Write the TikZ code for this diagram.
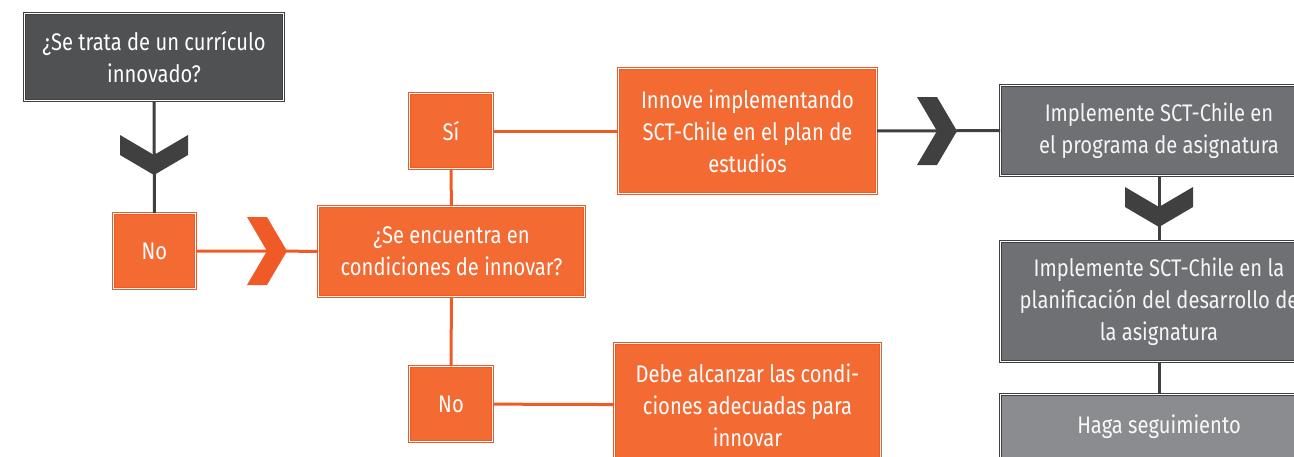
\documentclass[tikz,border=0pt]{standalone}
\usepackage{fontspec}
\setmainfont{Fira Sans}[FakeStretch=0.84]
\usetikzlibrary{shapes.geometric,arrows,positioning}

\definecolor{orfill}{HTML}{F36A33}
\definecolor{orline}{HTML}{EF5A27}
\definecolor{dkfill}{HTML}{505153}
\definecolor{dkline}{HTML}{3E3F41}
\definecolor{gyfill}{HTML}{6F7073}
\definecolor{ltfill}{HTML}{8B8C8F}
\definecolor{chev}{HTML}{404041}

\tikzset{
  box/.style={rectangle, line width=1pt, double=white, double distance=1pt,
    align=center, inner sep=0pt, text=white,
    font=\fontsize{24}{32}\selectfont},
  orbox/.style={box, draw=orline, fill=orfill},
  dkbox/.style={box, draw=dkline, fill=dkfill},
  gybox/.style={box, draw=dkline, fill=gyfill, text=white!92!gray},
  ltbox/.style={box, draw=dkline, fill=ltfill, text=white!95!gray},
  orlink/.style={draw=orline, line width=3pt},
  dklink/.style={draw=chev, line width=3pt},
  chevron/.pic={\fill (-20,-34) -- (0,0) -- (-20,34) -- (0,34) -- (20,0) -- (0,-34) -- cycle;}
}

\begin{document}
\begin{tikzpicture}[x=1pt,y=-1pt]
\useasboundingbox (0,0) rectangle (1294,456);
\clip (0,0) rectangle (1294,456);

\node (top) at (154,57) [dkbox, minimum width=259, minimum height=87] {¿Se trata de un currículo\\innovado?};
\node (no1) at (154.5,251) [orbox, minimum width=82, minimum height=75] {No};
\node (cond) at (451.5,251.5) [orbox, minimum width=266, minimum height=90] {¿Se encuentra en\\condiciones de innovar?};
\node (si) at (451,131) [orbox, minimum width=83, minimum height=75] {Sí};
\node (no2) at (451,404) [orbox, minimum width=83, minimum height=75] {No};
\node (innove) at (747.5,131) [orbox, minimum width=258, minimum height=125] {Innove implementando\\SCT-Chile en el plan de\\estudios};
\node (debe) at (747.5,405) [orbox, minimum width=266, minimum height=123] {Debe alcanzar las condi-\\ciones adecuadas para\\innovar};
\node (prog) at (1159,130.5) [gybox, minimum width=317, minimum height=90] {Implemente SCT-Chile en\\el programa de asignatura};
\node (plan) at (1159,301.5) [gybox, minimum width=317, minimum height=120] {Implemente SCT-Chile en la\\planificación del desarrollo de\\la asignatura};
\node (haga) at (1159,427) [ltbox, minimum width=317, minimum height=65] {Haga seguimiento};

\foreach \a/\b in {top/no1,innove/prog,prog/plan,plan/haga} {
\draw[dklink] (\a) -- (\b);
}
\foreach \a/\b in {no1/cond,cond/si,cond/no2,si/innove,no2/debe} {
\draw[orlink] (\a) -- (\b);
}

\pic[chev, rotate=-90] at (154,155) {chevron};
\pic[orline] at (267,251) {chevron};
\pic[chev] at (937,131) {chevron};
\pic[chev, rotate=-90] at (1159,207) {chevron};
\end{tikzpicture}
\end{document}
